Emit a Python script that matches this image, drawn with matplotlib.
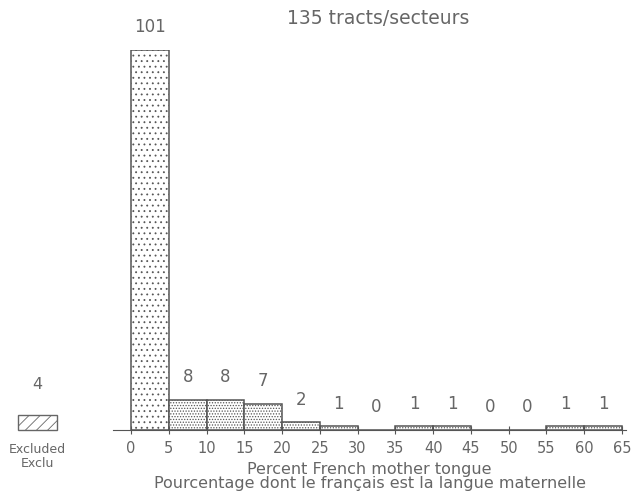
import matplotlib.pyplot as plt
import numpy as np

# histogram of census tracts by percent French mother tongue
bornes = [0, 5, 10, 15, 20, 25, 30, 35, 40, 45, 50, 55, 60]
effectifs = [101, 8, 8, 7, 2, 1, 0, 1, 1, 0, 0, 1, 1]
exclus = 4
ticks = list(range(0, 70, 5))

gris = '#666666'
plt.rcParams['hatch.linewidth'] = 0.6

fig = plt.figure(figsize=(6.36, 4.97), dpi=100)
ax = fig.add_axes([113 / 636, 1 - 430 / 497, (626 - 113) / 636, 380 / 497])
ax.set_xlim(-2.38, 65.53)
ax.set_ylim(0, 101)

for x0, n in zip(bornes, effectifs):
    motif = '...' if n > 50 else '......'
    ax.bar(x0, n, width=5, align='edge', facecolor='white', edgecolor='#555555',
           linewidth=1.1, hatch=motif)
    ax.text(x0 + 2.5, n + 3.6, str(n), ha='center', va='bottom',
            fontsize=12, color=gris)

# excluded tracts drawn to the left of the axis
ax.bar(-14.95, exclus, width=5.2, align='edge', facecolor='white',
       edgecolor=gris, linewidth=1.0, hatch='///', clip_on=False)
ax.text(-12.35, exclus + 6.2, str(exclus), ha='center', va='bottom',
        fontsize=11.5, color=gris)
ax.text(-12.35, -3.4, 'Excluded\nExclu', ha='center', va='top',
        fontsize=9, color=gris, linespacing=1.15)

for s in ['top', 'right', 'left']:
    ax.spines[s].set_visible(False)
ax.spines['bottom'].set_color('#555555')
ax.set_yticks([])
ax.set_xticks(ticks)
ax.set_xticklabels([str(t) for t in ticks], fontsize=10.5, color=gris)
ax.tick_params(axis='x', direction='inout', length=6, color='#555555', pad=5)

ax.set_xlabel('Percent French mother tongue\n'
              'Pourcentage dont le français est la langue maternelle',
              fontsize=11.5, color=gris, linespacing=0.95, labelpad=4)
fig.text(378 / 636, 1 - 18 / 497, '135 tracts/secteurs', ha='center',
         va='center', fontsize=13.5, color=gris)

fig.savefig('out.png', dpi=100)
